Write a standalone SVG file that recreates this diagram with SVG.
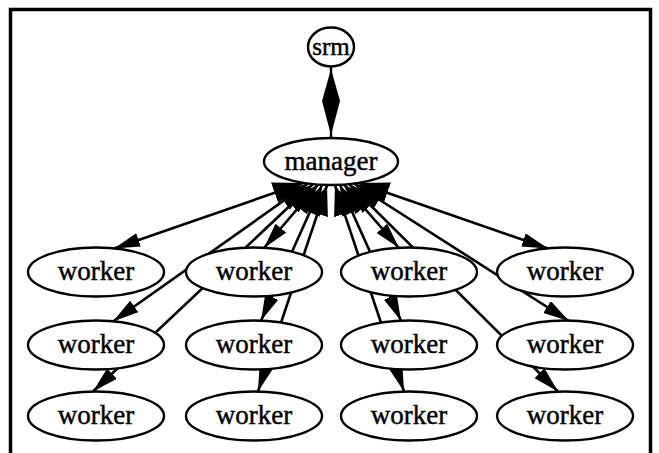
<svg xmlns="http://www.w3.org/2000/svg" width="659" height="453" viewBox="0 0 659 453">
  <style>
    .node ellipse { fill: #ffffff; stroke: #000000; stroke-width: 2.4; }
    .node text { font-family: "Liberation Serif", "Times New Roman", serif; font-size: 27px; fill: #000000; stroke: #000000; stroke-width: 0.45; text-anchor: middle; }
    .edge { stroke: #000000; stroke-width: 2.6; fill: none; marker-start: url(#tailHead); marker-end: url(#workerHead); }
    .frame { fill: none; stroke: #000000; stroke-width: 3.5; }
  </style>
  <defs>
    <!-- arrowhead at the worker end -->
    <marker id="workerHead" markerUnits="userSpaceOnUse" markerWidth="27" markerHeight="15" refX="26" refY="7" orient="auto">
      <path d="M0,0 L26,7 L0,14 Z" fill="#000000"/>
    </marker>
    <!-- arrowhead at the manager end -->
    <marker id="tailHead" markerUnits="userSpaceOnUse" markerWidth="31" markerHeight="23" refX="30" refY="11" orient="auto-start-reverse">
      <path d="M0,0 L30,11 L0,22 Z" fill="#000000"/>
    </marker>
  </defs>

  <rect width="659" height="453" fill="#ffffff"/>
  <path class="frame" d="M10.5,453 V9.5 H650.5 V453"/>

  <g id="connectors">
    <!-- srm <-> manager -->
    <line x1="331" y1="66" x2="331" y2="138" stroke="#000000" stroke-width="2.4"/>
    <polygon points="331,69 340,101 331,135 322,101" fill="#000000"/>
    <!-- manager <-> workers -->
    <path class="edge" d="M303,183 L114,248.5"/>
    <path class="edge" d="M308,183.5 L113,321.5"/>
    <path class="edge" d="M313,184 L93,391.5"/>
    <path class="edge" d="M318,184.6 L264,248"/>
    <path class="edge" d="M322,185 L261,320.7"/>
    <path class="edge" d="M327,185.3 L258,391.5"/>
    <path class="edge" d="M335,185.3 L404,391.5"/>
    <path class="edge" d="M340,185 L401,320.7"/>
    <path class="edge" d="M344,184.6 L399,248"/>
    <path class="edge" d="M349,184 L558,391.5"/>
    <path class="edge" d="M354,183.5 L569,321"/>
    <path class="edge" d="M359,183 L548,248.5"/>
  </g>

  <g id="srm" class="node">
    <ellipse cx="331" cy="47" rx="23" ry="19.5"/>
    <text x="331" y="55" style="font-size:25px">srm</text>
  </g>
  <g id="manager" class="node">
    <ellipse cx="331" cy="161.5" rx="67" ry="23.5"/>
    <text x="331" y="169.5">manager</text>
  </g>

  <g id="worker_1_1" class="node"><ellipse cx="96" cy="272" rx="68" ry="24.5"/><text x="96" y="280">worker</text></g>
  <g id="worker_1_2" class="node"><ellipse cx="254" cy="272" rx="68" ry="24.5"/><text x="254" y="280">worker</text></g>
  <g id="worker_1_3" class="node"><ellipse cx="409" cy="272" rx="68" ry="24.5"/><text x="409" y="280">worker</text></g>
  <g id="worker_1_4" class="node"><ellipse cx="565" cy="272" rx="68" ry="24.5"/><text x="565" y="280">worker</text></g>

  <g id="worker_2_1" class="node"><ellipse cx="96" cy="345" rx="68" ry="24.5"/><text x="96" y="353">worker</text></g>
  <g id="worker_2_2" class="node"><ellipse cx="254" cy="345" rx="68" ry="24.5"/><text x="254" y="353">worker</text></g>
  <g id="worker_2_3" class="node"><ellipse cx="409" cy="345" rx="68" ry="24.5"/><text x="409" y="353">worker</text></g>
  <g id="worker_2_4" class="node"><ellipse cx="565" cy="345" rx="68" ry="24.5"/><text x="565" y="353">worker</text></g>

  <g id="worker_3_1" class="node"><ellipse cx="96" cy="416" rx="68" ry="24.5"/><text x="96" y="424">worker</text></g>
  <g id="worker_3_2" class="node"><ellipse cx="254" cy="416" rx="68" ry="24.5"/><text x="254" y="424">worker</text></g>
  <g id="worker_3_3" class="node"><ellipse cx="409" cy="416" rx="68" ry="24.5"/><text x="409" y="424">worker</text></g>
  <g id="worker_3_4" class="node"><ellipse cx="565" cy="416" rx="68" ry="24.5"/><text x="565" y="424">worker</text></g>
</svg>
